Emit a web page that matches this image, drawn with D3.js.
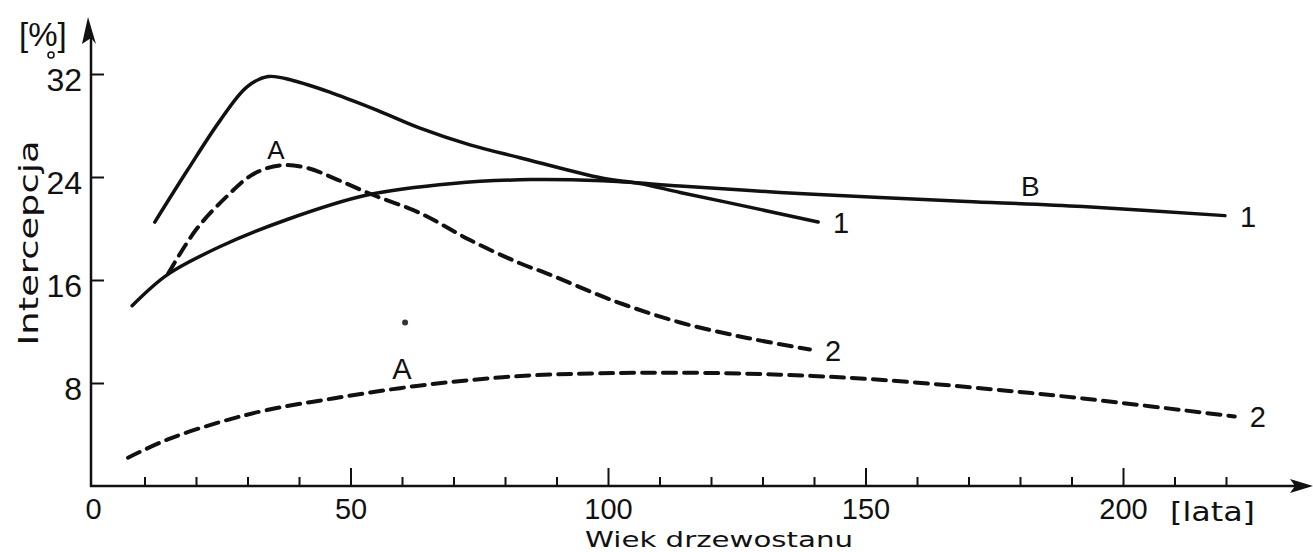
<!DOCTYPE html>
<html>
<head>
<meta charset="utf-8">
<script src="https://cdn.jsdelivr.net/npm/d3@7"></script>
<style>
  body { margin: 0; background: #fff; }
  svg { display: block; }
  text { font-family: "Liberation Sans", Arial, sans-serif; fill: #111; }
  .title { font-family: "DejaVu Sans", sans-serif; }
</style>
</head>
<body>
<svg id="chart" width="1313" height="552"></svg>
<script>
// stand age [years] vs interception [%]
var curveA1 = [[12,20.5],[18.3,24.5],[24.7,28.4],[29.9,31.0],[34,31.8],[38.8,31.5],[46.6,30.5],[55.1,29.2],
  [63.5,27.8],[73.2,26.5],[82.9,25.5],[99,23.9],[106.2,23.5],[114,22.8],[127,21.7],[140.8,20.5]];
var curveB1 = [[7.6,14.0],[14.4,16.4],[24.7,18.6],[37.7,20.7],[53.2,22.6],[69.9,23.5],[85,23.8],[99,23.7],
  [114,23.3],[133.4,22.8],[152.8,22.4],[169.7,22.1],[192.2,21.7],[219.8,21.0]];
var curveA2 = [[14.6,16.5],[20,19.9],[26,22.5],[31,24.2],[36.3,24.9],[41.6,24.7],[47.4,23.8],[54.4,22.6],
  [63.5,21.2],[73.2,19.1],[82.9,17.3],[88.2,16.5],[101,14.4],[114,12.7],[127,11.5],[139.2,10.6]];
var curveB2 = [[6.8,2.2],[14.4,3.6],[24.1,4.9],[33.8,5.9],[46.6,6.8],[59.6,7.6],[72.6,8.2],[85.4,8.6],
  [98.4,8.75],[114,8.8],[133.4,8.65],[152.8,8.25],[174.8,7.5],[192.2,6.8],[221.7,5.4]];
var strayDot = [60.6, 12.7];

var xMajor = [0, 50, 100, 150, 200];
var xMinor = [10,20,30,40,60,70,80,90,110,120,130,140,160,170,180,190,210,220];
var yTicks = [8, 16, 24, 32];

var svg = d3.select("#chart");
var x = d3.scaleLinear().domain([0, 200]).range([93, 1123]);
var y = d3.scaleLinear().domain([0, 32]).range([486, 74]);
var axisY0 = 486, axisX0 = 91;
var FONT = "Liberation Sans, Arial, sans-serif";

// axes lines + arrows
svg.append("line").attr("x1", axisX0 - 1).attr("y1", axisY0).attr("x2", 1296).attr("y2", axisY0)
  .attr("stroke", "#111").attr("stroke-width", 2.5);
svg.append("path").attr("d", "M1313," + axisY0 + " L1290," + (axisY0 - 7) + " L1295," + axisY0 + " L1290," + (axisY0 + 7) + " Z")
  .attr("fill", "#111");
svg.append("line").attr("x1", axisX0).attr("y1", axisY0 + 1).attr("x2", axisX0).attr("y2", 36)
  .attr("stroke", "#111").attr("stroke-width", 2.5);
svg.append("path").attr("d", "M" + (axisX0 - 3) + ",17 L" + (axisX0 - 9) + ",44 L" + axisX0 + ",38 L" + (axisX0 + 5) + ",44 Z")
  .attr("fill", "#111");

// x ticks
var gx = svg.append("g").attr("transform", "translate(0," + axisY0 + ")");
gx.call(d3.axisBottom(x).tickValues(xMinor).tickSize(-9).tickFormat(""));
gx.append("g").call(d3.axisBottom(x).tickValues(xMajor.slice(1)).tickSize(-18).tickFormat(""));
gx.append("g").call(d3.axisBottom(x).tickValues(xMajor).tickSize(0).tickPadding(12));
gx.selectAll(".domain").remove();
gx.selectAll("line").attr("stroke", "#111").attr("stroke-width", 2);
gx.selectAll("text").style("font-size", "29px").style("font-family", FONT).attr("fill", "#111");

// y ticks
var gy = svg.append("g").attr("transform", "translate(" + axisX0 + ",0)");
gy.call(d3.axisLeft(y).tickValues(yTicks).tickSize(-13).tickPadding(9));
gy.selectAll(".domain").remove();
gy.selectAll("line").attr("stroke", "#111").attr("stroke-width", 2);
gy.selectAll("text").style("font-size", "32px").attr("dy", "0.5em")
  .style("font-family", FONT).attr("fill", "#111");

// axis titles
svg.append("text").attr("x", 19).attr("y", 46).attr("font-size", 33).text("[%]");
svg.append("circle").attr("cx", 51).attr("cy", 55).attr("r", 3).attr("fill", "none")
  .attr("stroke", "#111").attr("stroke-width", 1.5);
svg.append("text").attr("class", "title").attr("transform", "translate(38,243) rotate(-90)").attr("text-anchor", "middle")
  .attr("font-size", 27).attr("textLength", 205).attr("lengthAdjust", "spacingAndGlyphs").text("Intercepcja");
svg.append("text").attr("class", "title").attr("x", 585).attr("y", 547).attr("font-size", 22)
  .attr("textLength", 268).attr("lengthAdjust", "spacingAndGlyphs").text("Wiek drzewostanu");
svg.append("text").attr("class", "title").attr("x", 1170).attr("y", 521).attr("font-size", 27)
  .attr("textLength", 85).attr("lengthAdjust", "spacingAndGlyphs").text("[lata]");

// curves
var line = d3.line().x(function(d) { return x(d[0]); }).y(function(d) { return y(d[1]); })
  .curve(d3.curveCatmullRom.alpha(0.5));

function drawCurve(data, dashed, label) {
  svg.append("path").datum(data).attr("d", line).attr("fill", "none")
    .attr("stroke", "#111").attr("stroke-width", dashed ? 4 : 3.5)
    .attr("stroke-linecap", "round")
    .attr("stroke-dasharray", dashed ? "13,8" : null);
  var last = data[data.length - 1];
  svg.append("text").attr("x", x(last[0]) + 15).attr("y", y(last[1]) + 11)
    .attr("font-size", 29).text(label);
}
drawCurve(curveA1, false, "1");
drawCurve(curveB1, false, "1");
drawCurve(curveA2, true, "2");
drawCurve(curveB2, true, "2");

// letters A / B
svg.append("text").attr("x", x(35.5)).attr("y", y(24.9) - 6).attr("text-anchor", "middle").attr("font-size", 26).text("A");
svg.append("text").attr("x", x(60)).attr("y", y(7.7) - 8).attr("text-anchor", "middle").attr("font-size", 29).text("A");
svg.append("text").attr("x", x(182)).attr("y", y(22.0) - 7).attr("text-anchor", "middle").attr("font-size", 28).text("B");

svg.append("circle").attr("cx", x(strayDot[0])).attr("cy", y(strayDot[1])).attr("r", 3).attr("fill", "#333");
</script>
</body>
</html>
